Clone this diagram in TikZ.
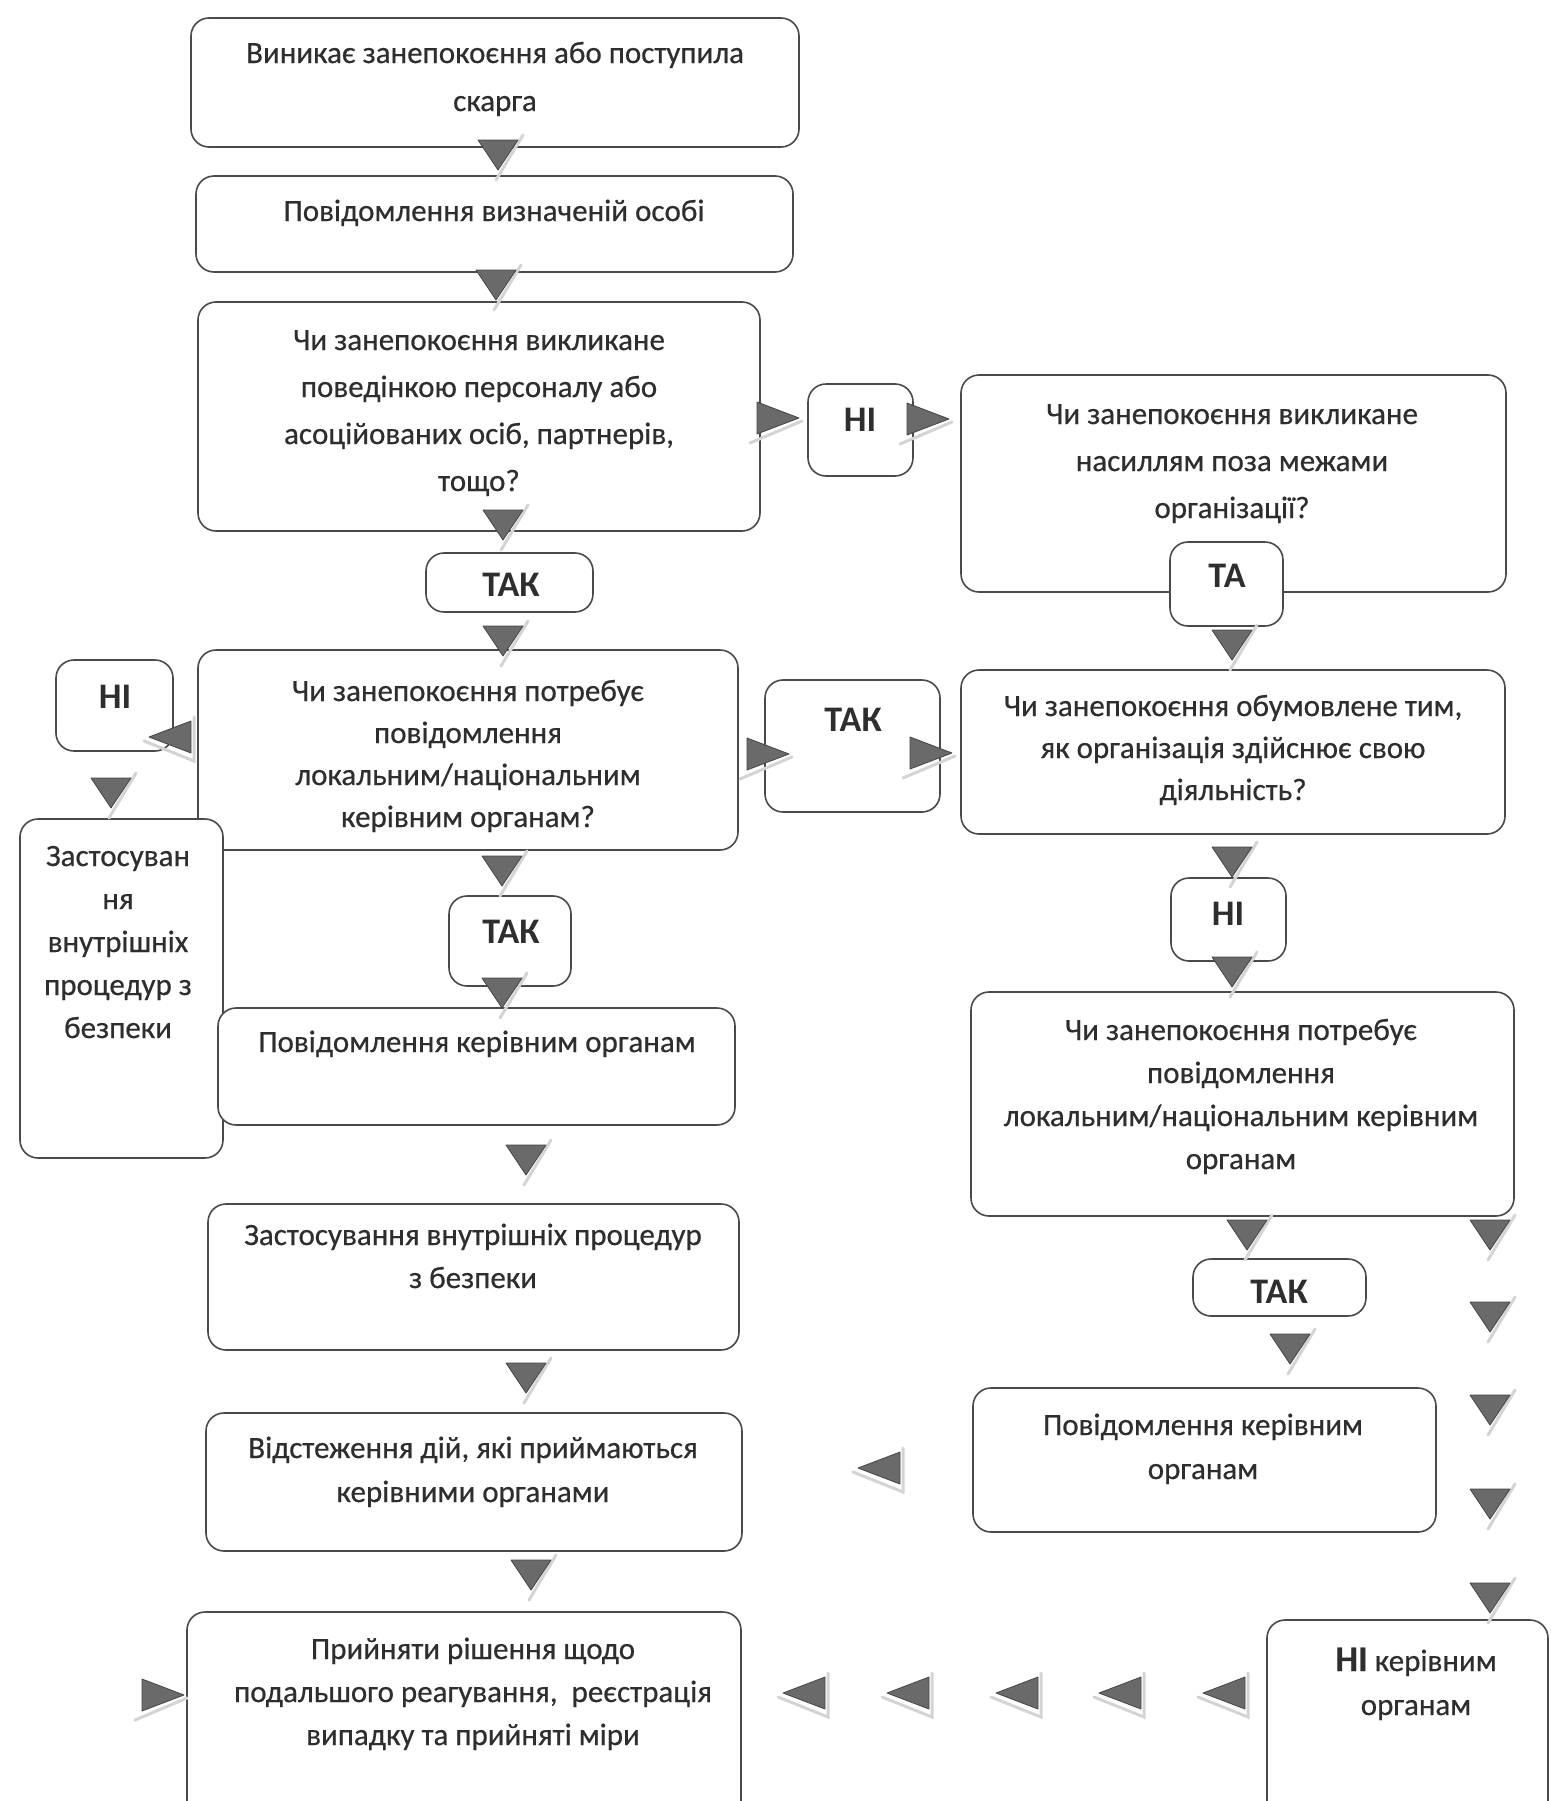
\documentclass[tikz,border=0pt]{standalone}
\usepackage{fontspec}
\setmainfont{Carlito}
\newfontfamily\bodyff{Carlito}[FakeBold=0.5]
\definecolor{txt}{HTML}{2E2E2E}
\definecolor{boxline}{HTML}{4A4A4A}
\definecolor{trigray}{HTML}{6A6A6A}
\definecolor{tridark}{HTML}{454545}
\definecolor{shadowgray}{HTML}{D4D4D4}
\newcommand\bodyfont[1]{\bodyff\fontsize{31}{#1}\selectfont}
\newcommand\labfont{\fontsize{36}{40}\selectfont\bfseries}
\newcommand\tridown[2]{%
  \draw[shadowline] (#1+25,#2-20) -- (#1-2,#2+25);
  \filldraw[trifill] (#1-20,#2-15) -- (#1+20,#2-15) -- (#1,#2+15) -- cycle;}
\newcommand\triright[2]{%
  \draw[shadowline] (#1+24,#2+3) -- (#1-28,#2+25);
  \filldraw[trifill] (#1-21,#2-16) -- (#1+21,#2) -- (#1-21,#2+16) -- cycle;}
\newcommand\trileft[2]{%
  \draw[shadowline] (#1-26,#2+4) -- (#1+24,#2+24) -- (#1+24,#2-20);
  \filldraw[trifill] (#1+21,#2-16) -- (#1-21,#2) -- (#1+21,#2+16) -- cycle;}
\begin{document}
\begin{tikzpicture}[x=1pt,y=-1pt,
  box/.style={draw=boxline, line width=1.6pt, rounded corners=18pt, fill=white, inner sep=0pt},
  lbl/.style={anchor=base, align=center, text=txt, inner sep=0pt},
  trifill/.style={fill=trigray, draw=tridark, line width=0.8pt, line join=round},
  shadowline/.style={draw=shadowgray, line width=3pt, line cap=round}]
\useasboundingbox (0,0) rectangle (1550,1801);
\fill[white] (0,0) rectangle (1550,1801);
\clip (0,0) rectangle (1550,1801);

% ---- boxes ----
\node[box, minimum width=608pt, minimum height=129pt] (b1) at (495,82.5) {};
\node[box, minimum width=597pt, minimum height=96pt] (b2) at (494.5,224) {};
\node[box, minimum width=562pt, minimum height=229pt] (b3) at (479,416.5) {};
\node[box, minimum width=545pt, minimum height=217pt] (q2) at (1233.5,483.5) {};
\node[box, minimum width=105pt, minimum height=92pt] (ni1) at (860.5,430) {};
\node[box, minimum width=167pt, minimum height=59pt] (tak1) at (509.5,582.5) {};
\node[box, minimum width=113pt, minimum height=84pt] (ta) at (1226.5,584) {};
\node[box, minimum width=540pt, minimum height=200pt] (b4) at (468,750) {};
\node[box, minimum width=117pt, minimum height=91pt] (ni2) at (114.5,705.5) {};
\node[box, minimum width=203pt, minimum height=339pt] (z1) at (121.5,988.5) {};
\node[box, minimum width=175pt, minimum height=132pt] (tak2) at (852.5,746) {};
\node[box, minimum width=544pt, minimum height=164pt] (q3) at (1233,752) {};
\node[box, minimum width=122pt, minimum height=90pt] (tak3) at (510,941) {};
\node[box, minimum width=517pt, minimum height=117pt] (b5) at (476.5,1066.5) {};
\node[box, minimum width=115pt, minimum height=83pt] (ni3) at (1228.5,919.5) {};
\node[box, minimum width=543pt, minimum height=224pt] (q4) at (1242.5,1104) {};
\node[box, minimum width=173pt, minimum height=57pt] (tak4) at (1279.5,1287.5) {};
\node[box, minimum width=463pt, minimum height=144pt] (r5) at (1204.5,1460) {};
\node[box, minimum width=531pt, minimum height=146pt] (b6) at (473.5,1277) {};
\node[box, minimum width=536pt, minimum height=138pt] (b7) at (474,1482) {};
\node[box, minimum width=554pt, minimum height=218pt] (b8) at (464,1721) {};
\node[box, minimum width=281pt, minimum height=210pt] (ni4) at (1407.5,1725) {};

% ---- texts (anchor = baseline of the last line) ----
\node[lbl, font={\bodyfont{48}}] (t1) at (495,111) {Виникає занепокоєння або поступила\\скарга};
\node[lbl, font={\bodyfont{48}}] (t2) at (494,221) {Повідомлення визначеній особі};
\node[lbl, font={\bodyfont{47}}] (t3) at (479,491) {Чи занепокоєння викликане\\поведінкою персоналу або\\асоційованих осіб, партнерів,\\тощо?};
\node[lbl, font={\bodyfont{47}}] (tq2) at (1232,518) {Чи занепокоєння викликане\\насиллям поза межами\\організації?};
\node[lbl, font=\labfont] (tni1) at (860,431) {НІ};
\node[lbl, font=\labfont] (ttak1) at (511,596) {ТАК};
\node[lbl, font=\labfont] (tta) at (1227,587) {ТА};
\node[lbl, font={\bodyfont{42}}] (t4) at (468,827) {Чи занепокоєння потребує\\повідомлення\\локальним/національним\\керівним органам?};
\node[lbl, font=\labfont] (tni2) at (115,708) {НІ};
\node[lbl, font=\labfont] (ttak2) at (853,731) {ТАК};
\node[lbl, font={\bodyfont{42}}] (tq3) at (1233,800) {Чи занепокоєння обумовлене тим,\\як організація здійснює свою\\діяльність?};
\node[lbl, font={\bodyfont{43}}] (tz1) at (118,1038) {Застосуван\\ня\\внутрішніх\\процедур з\\безпеки};
\node[lbl, font=\labfont] (ttak3) at (511,943) {ТАК};
\node[lbl, font=\labfont] (tni3) at (1228,925) {НІ};
\node[lbl, font={\bodyfont{43}}] (t5) at (477,1052) {Повідомлення керівним органам};
\node[lbl, font={\bodyfont{43}}] (tq4) at (1241,1169) {Чи занепокоєння потребує\\повідомлення\\локальним/національним керівним\\органам};
\node[lbl, font=\labfont] (ttak4) at (1279,1303) {ТАК};
\node[lbl, font={\bodyfont{43}}] (t6) at (473,1288) {Застосування внутрішніх процедур\\з безпеки};
\node[lbl, font={\bodyfont{44}}] (tr5) at (1203,1479) {Повідомлення керівним\\органам};
\node[lbl, font={\bodyfont{44}}] (t7) at (473,1502) {Відстеження дій, які приймаються\\керівними органами};
\node[lbl, font={\bodyfont{43}}] (t8) at (473,1745) {Прийняти рішення щодо\\подальшого реагування,\ \ реєстрація\\випадку та прийняті міри};
\node[lbl, font={\bodyfont{44}}] (tni4) at (1416,1715) {{\labfont НІ} керівним\\органам};

% ---- triangles ----
\tridown{498}{155}
\tridown{496}{285}
\tridown{503}{525}
\tridown{503}{641}
\tridown{111}{793}
\tridown{502}{871}
\tridown{502}{993}
\tridown{526}{1160}
\tridown{526}{1378}
\tridown{531}{1575}
\tridown{1232}{645}
\tridown{1232}{862}
\tridown{1232}{972}
\tridown{1247}{1235}
\tridown{1290}{1349}
\tridown{1490}{1235}
\tridown{1490}{1317}
\tridown{1490}{1410}
\tridown{1490}{1504}
\tridown{1490}{1598}
\triright{778}{418}
\triright{928}{419}
\triright{768}{754}
\triright{931}{753}
\triright{163}{1695}
\trileft{170}{737}
\trileft{879}{1468}
\trileft{804}{1693}
\trileft{908}{1693}
\trileft{1017}{1693}
\trileft{1120}{1693}
\trileft{1224}{1693}
\end{tikzpicture}
\end{document}
